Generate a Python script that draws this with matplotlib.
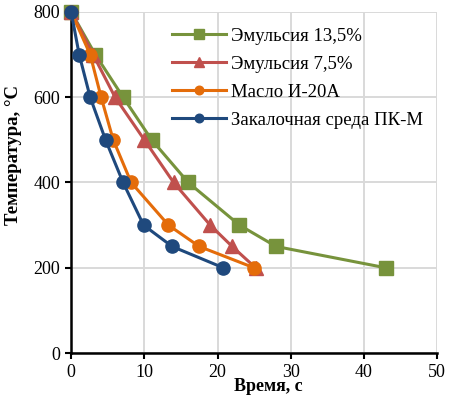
import matplotlib.pyplot as plt

plt.rcParams['font.family'] = ['Liberation Serif', 'DejaVu Serif']

temp = [800, 700, 600, 500, 400, 300, 250, 200]
t_em135 = [0, 3.3, 7.1, 11.0, 16.0, 23.0, 28.0, 43.0]
t_em75 = [0, 3.0, 6.0, 10.0, 14.0, 19.0, 22.0, 25.2]
t_oil = [0, 2.6, 4.1, 5.75, 8.2, 13.3, 17.5, 25.0]
t_pkm = [0, 1.1, 2.6, 4.7, 7.1, 9.9, 13.8, 20.8]

series = [
    ("Эмульсия 13,5%", t_em135, "#77933C", "s", 10),
    ("Эмульсия 7,5%", t_em75, "#C0504D", "^", 10),
    ("Масло И-20А", t_oil, "#E46C0A", "o", 9.5),
    ("Закалочная среда ПК-М", t_pkm, "#1F497D", "o", 9.5),
]

fig = plt.figure(figsize=(4.53, 3.95), dpi=100)
ax = fig.add_axes([0.157, 0.106, 0.808, 0.864])

for label, xs, color, marker, ms in series:
    ax.plot(xs, temp, color=color, linewidth=2.2, marker=marker,
            markersize=ms, label=label, clip_on=False, zorder=3)

ax.set_xlim(0, 50)
ax.set_ylim(0, 800)
ax.set_xticks(range(0, 51, 10))
ax.set_yticks(range(0, 801, 200))
ax.grid(True, color="#d9d9d9", linewidth=1.4, zorder=0)
ax.set_axisbelow(True)

for side in ("top", "right"):
    ax.spines[side].set_visible(False)
for side in ("left", "bottom"):
    ax.spines[side].set_linewidth(1.8)
    ax.spines[side].set_zorder(2)
ax.tick_params(direction="out", length=4, width=1.5, labelsize=13, pad=4)

ax.set_xlabel("Время, с", fontsize=13, fontweight="bold")
ax.set_ylabel("Температура, °С", fontsize=13.5, fontweight="bold")
ax.xaxis.set_label_coords(0.54, -0.074)
ax.yaxis.set_label_coords(-0.135, 0.58)

ax.legend(loc="upper left", bbox_to_anchor=(0.255, 0.975), frameon=False,
          fontsize=13.5, handlelength=2.9, handletextpad=0.25, labelspacing=0.58,
          markerscale=0.65, borderaxespad=0)

fig.savefig("out.png", dpi=100)
